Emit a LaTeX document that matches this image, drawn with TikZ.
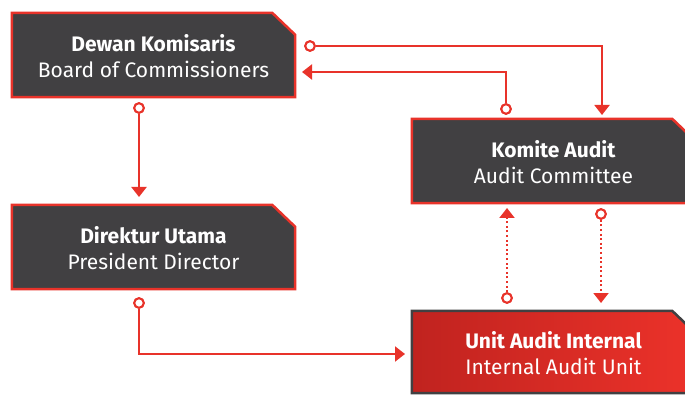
\documentclass[tikz,border=0pt]{standalone}
\usepackage{fontspec}
\setmainfont{Fira Sans}
\usetikzlibrary{arrows.meta}
\definecolor{rd}{HTML}{E8332A}
\definecolor{dk}{HTML}{414042}
\definecolor{rdl}{HTML}{C0231F}
\definecolor{rdr}{HTML}{EC322A}
\tikzset{
  boxnode/.style={minimum width=283pt,minimum height=84pt,inner sep=0pt,align=center,text=white,
    font=\fontsize{21}{26}\selectfont},
  boxline/.style={line width=2.5pt,line join=miter},
  conn/.style={draw=rd,line width=2pt},
  dotline/.style={draw=rd,line width=2pt,dash pattern=on 2pt off 2.6pt},
  dotc/.style={circle,draw=rd,fill=white,line width=2pt,minimum size=9.5pt,inner sep=0pt},
  tip/.style={-{Triangle[length=10pt,width=15pt]}}
}
\newcommand{\chamf}[2]{(#1.south west) -- (#1.north west) -- ([xshift=-23pt]#1.north east) -- ([yshift=-22pt]#1.north east) -- (#1.south east) -- cycle}
\begin{document}
\begin{tikzpicture}[x=1pt,y=-1pt]
\useasboundingbox (0,0) rectangle (685,395);
\clip (0,0) rectangle (685,395);
% boxes
\node[boxnode] (dk1) at (153.5,55) {};
\node[boxnode] (du) at (153.5,247) {};
\node[boxnode] (ka) at (553.5,161) {};
\node[boxnode,minimum height=82pt] (uai) at (553.5,352) {};
\fill[dk] \chamf{dk1}{};
\draw[boxline,draw=rd] \chamf{dk1}{};
\fill[dk] \chamf{du}{};
\draw[boxline,draw=rd] \chamf{du}{};
\fill[dk] \chamf{ka}{};
\draw[boxline,draw=rd] \chamf{ka}{};
\shade[left color=rdl,right color=rdr] \chamf{uai}{};
\draw[boxline,draw=dk] \chamf{uai}{};
\node[boxnode,yshift=-1pt] at (dk1) {\textbf{Dewan Komisaris}\\Board of Commissioners};
\node[boxnode,yshift=-1pt] at (du) {\textbf{Direktur Utama}\\President Director};
\node[boxnode,yshift=-1pt] at (ka) {\textbf{Komite Audit}\\Audit Committee};
\node[boxnode,yshift=-1pt,minimum height=82pt] at (uai) {\textbf{Unit Audit Internal}\\Internal Audit Unit};
% connector endpoints
\node[dotc] (c1) at (139,108) {};
\coordinate (e1) at (139,197);
\node[dotc] (c2) at (310,46) {};
\coordinate (e2) at (602,115);
\node[dotc] (c3) at (506,109) {};
\coordinate (e3) at (302,72);
\node[dotc] (c4) at (507,298) {};
\coordinate (e4) at (507,208);
\node[dotc] (c5) at (601,214) {};
\coordinate (e5) at (601,303);
\node[dotc] (c6) at (139,303) {};
\coordinate (e6) at (405,354);
% connectors
\draw[conn,tip] (c1) -- (e1);
\draw[conn,tip] (c2) -| (e2);
\draw[conn,tip] (c3) |- (e3);
\draw[dotline,tip] (c4) -- (e4);
\draw[dotline,tip] (c5) -- (e5);
\draw[conn,tip] (c6) |- (e6);
% redraw circles on top
\node[dotc] at (c1) {};
\node[dotc] at (c2) {};
\node[dotc] at (c3) {};
\node[dotc] at (c4) {};
\node[dotc] at (c5) {};
\node[dotc] at (c6) {};
\end{tikzpicture}
\end{document}
